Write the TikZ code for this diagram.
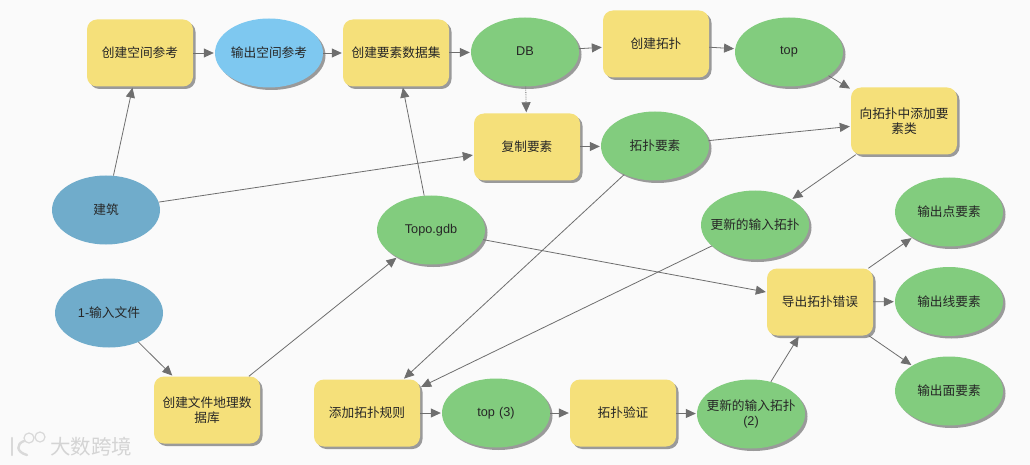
\documentclass[tikz,border=0pt]{standalone}
\usepackage{fontspec}
\setmainfont{Noto Sans CJK SC}
\newfontfamily\latn{Liberation Sans}
\usetikzlibrary{shapes.geometric,shadows,arrows.meta}
\definecolor{bgc}{HTML}{FAFAFA}
\definecolor{yel}{HTML}{F5E07A}
\definecolor{grn}{HTML}{82CC7E}
\definecolor{sky}{HTML}{7EC8F0}
\definecolor{teal}{HTML}{70ACCB}
\definecolor{lin}{HTML}{6E6E6E}
\definecolor{shd}{HTML}{9A9A9A}
\tikzset{
  x=1pt,y=-1pt,
  plain/.style={draw=none,align=center,font=\fontsize{12.7}{15.5}\selectfont,text=black!85},
  base/.style={plain,general shadow={fill=shd,shadow xshift=2.5pt,shadow yshift=-2.5pt}},
  tool/.style={base,rectangle,rounded corners=10pt,fill=yel,minimum width=106pt,minimum height=67pt,text width=92pt,inner sep=1pt},
  ell/.style={ellipse,minimum width=108pt,minimum height=69pt,text width=96pt,inner xsep=-10pt,inner ysep=-5pt},
  data/.style={base,ell,fill=grn},
  varb/.style={base,ell,fill=sky},
  inpt/.style={plain,ell,fill=teal},
  conn/.style={draw=lin,line width=0.8pt,-{Triangle[length=10pt,width=9pt,fill=lin]},shorten >=1pt},
  prec/.style={conn,densely dotted},
  wmark/.style={font=\fontsize{20.5}{21}\selectfont,text=black!17,inner sep=0pt},
  wline/.style={draw=black!15,line width=2.4pt,line cap=round,fill=none}
}
\newcommand{\up}[1]{\raisebox{1.5pt}{#1}}
\begin{document}
\begin{tikzpicture}
\useasboundingbox[fill=bgc] (0,0) rectangle (1030,465);
\node[tool] (a1) at (140,53) {\up{创建空间参考}};
\node[varb] (a2) at (269,53) {\up{输出空间参考}};
\node[tool] (a3) at (396,53) {\up{创建要素数据集}};
\node[data] (db) at (525,52) {\up{\latn DB}};
\node[tool] (a5) at (656,44) {\up{创建拓扑}};
\node[data] (top) at (789,52) {\up{\latn top}};
\node[tool] (b1) at (527,147) {\up{复制要素}};
\node[data] (b2) at (655,146) {\up{拓扑要素}};
\node[tool] (b3) at (904,121) {向拓扑中添加要\\素类};
\node[inpt] (jz) at (106,210) {建筑};
\node[data] (gdb) at (431,230) {\up{\latn Topo.gdb}};
\node[data] (upd) at (755,225) {\up{更新的输入拓扑}};
\node[data] (op) at (949,212) {\up{输出点要素}};
\node[data] (ol) at (949,301.5) {\up{输出线要素}};
\node[data] (oa) at (949,391) {\up{输出面要素}};
\node[tool] (exp) at (820,302) {\up{导出拓扑错误}};
\node[inpt] (inp) at (109,313) {{\latn 1-}输入文件};
\node[tool] (cgdb) at (207,410) {创建文件地理数\\据库};
\node[tool] (rule) at (367,413) {\up{添加拓扑规则}};
\node[data] (top3) at (496,413) {\up{\latn top (3)}};
\node[tool] (val) at (623,413) {\up{拓扑验证}};
\node[data] (upd2) at (751,414) {更新的输入拓扑\\{\latn (2)}};

\draw[conn] (a1) -- (a2);
\draw[conn] (a2) -- (a3);
\draw[conn] (a3) -- (db);
\draw[conn] (db) -- (a5);
\draw[conn] (a5) -- (top);
\draw[conn] (top) -- (b3);
\draw[prec] (db) -- (b1);
\draw[conn] (b1) -- (b2);
\draw[conn] (b2) -- (b3);
\draw[conn] (b3) -- (upd);
\draw[conn] (jz) -- (a1);
\draw[conn] (jz) -- (b1);
\draw[conn] (gdb) -- (a3);
\draw[conn] (gdb) -- (exp);
\draw[conn] (inp) -- (cgdb);
\draw[conn] (cgdb) -- (gdb);
\draw[conn] (b2) -- (rule);
\draw[conn] (upd) -- (rule);
\draw[conn] (rule) -- (top3);
\draw[conn] (top3) -- (val);
\draw[conn] (val) -- (upd2);
\draw[conn] (upd2) -- (exp);
\draw[conn] (exp) -- (op);
\draw[conn] (exp) -- (ol);
\draw[conn] (exp) -- (oa);

\node[wmark,anchor=west] (wm) at (50,447) {大数跨境};
\draw[wline] (12,438) -- (12,455);
\draw[wline] (24,441) .. controls (16,444) and (16,452) .. (27,455);
\draw[wline,line width=1.2pt] (29,438) circle (5);
\draw[wline,line width=1.2pt] (40,437) circle (5);
\end{tikzpicture}
\end{document}
